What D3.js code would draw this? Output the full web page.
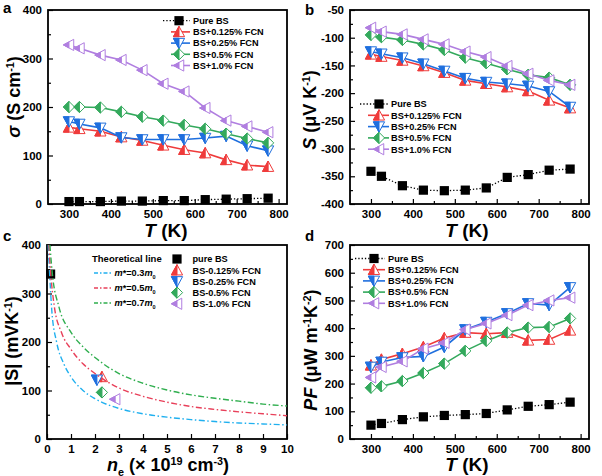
<!DOCTYPE html>
<html lang="en">
<head>
  <meta charset="UTF-8" />
  <title>BS + FCN thermoelectric</title>
  <script src="https://d3js.org/d3.v7.min.js"></script>
  <style>
    body { margin: 0; background: #fff; font-family: "Liberation Sans", Arial, sans-serif; }
    svg text { font-family: "Liberation Sans", Arial, sans-serif; font-weight: bold; }
    .tick text { font-size: 11.5px; }
  </style>
</head>
<body>
  <svg width="602" height="476"></svg>

  <script>
    // temperatures (K)
    const temps = [300, 325, 375, 425, 475, 525, 575, 625, 675, 725, 775];
    const seriesNames = ["Pure BS", "BS+0.125% FCN", "BS+0.25% FCN", "BS+0.5% FCN", "BS+1.0% FCN"];

    // panel a: electrical conductivity (S/cm)
    const sigmaPure = [5, 5, 5, 6, 6, 7, 7, 9, 10, 11, 12];
    const sigma0125 = [158, 155, 150, 138, 131, 121, 112, 105, 91, 80, 77];
    const sigma025 = [170, 165, 157, 137, 133, 133, 133, 136, 140, 120, 110];
    const sigma05 = [200, 200, 199, 190, 180, 172, 163, 155, 145, 135, 126];
    const sigma10 = [328, 321, 307, 297, 276, 248, 232, 198, 172, 160, 148];

    // panel b: Seebeck (uV/K)
    const sPure = [-341, -350, -367, -375, -376, -375, -371, -352, -347, -339, -337];
    const s0125 = [-130, -134, -141, -151, -163, -177, -183, -189, -196, -213, -227];
    const s025 = [-125, -129, -136, -147, -160, -173, -180, -183, -187, -197, -225];
    const s05 = [-95, -99, -104, -112, -122, -136, -146, -157, -167, -172, -185];
    const s10 = [-82, -89, -94, -103, -112, -125, -135, -151, -165, -177, -185];

    // panel c: |S| vs carrier concentration
    const neSamples = [0.15, 2.29, 2.08, 2.29, 2.84];
    const absSSamples = [340, 128, 122, 96, 82];
    const sampleNames = ["pure BS", "BS-0.125% FCN", "BS-0.25% FCN", "BS-0.5% FCN", "BS-1.0% FCN"];
    const neM03 = [0.05, 0.1, 0.2, 0.4, 0.7, 1, 1.5, 2, 3, 4, 5, 6, 7, 8, 9, 10];
    const sM03 = [400, 350, 265, 200, 155, 128, 100, 83, 63, 52, 45, 40, 36, 33, 31, 29];
    const neM05 = [0.08, 0.15, 0.3, 0.6, 1, 1.5, 2, 3, 4, 5, 6, 7, 8, 9, 10];
    const sM05 = [400, 345, 275, 220, 185, 155, 135, 105, 88, 76, 67, 61, 56, 52, 48];
    const neM07 = [0.12, 0.22, 0.5, 1, 1.5, 2, 3, 4, 5, 6, 7, 8, 9, 10];
    const sM07 = [400, 342, 272, 220, 190, 168, 135, 115, 101, 91, 84, 78, 72, 68];
    const massLabels = ["0.3", "0.5", "0.7"];

    // panel d: power factor (uW m-1 K-2)
    const pfPure = [50, 56, 70, 80, 85, 88, 92, 105, 118, 124, 133];
    const pf0125 = [266, 287, 308, 332, 364, 384, 380, 384, 356, 359, 392];
    const pf025 = [260, 278, 294, 298, 332, 395, 422, 453, 489, 483, 547];
    const pf05 = [185, 190, 209, 238, 272, 318, 354, 384, 402, 404, 435];
    const pf10 = [222, 260, 280, 326, 347, 395, 417, 447, 483, 500, 510];

    const colors = ["#000000", "#ef3b3b", "#1f6fde", "#33a95c", "#b07ee0"];
    const shapes = ["square", "up", "down", "diamond", "left"];
    const curveColors = ["#20b0ef", "#e8405a", "#2fae4e"];

    const svg = d3.select("svg");

    function marker(sel, type, color, r) {
      if (type === "square") {
        sel.append("rect").attr("x", -r).attr("y", -r).attr("width", 2 * r).attr("height", 2 * r)
          .attr("fill", "#000");
        return;
      }
      const full = {
        up: [[0, -r], [r, 0.85 * r], [-r, 0.85 * r]],
        down: [[0, r], [r, -0.85 * r], [-r, -0.85 * r]],
        diamond: [[0, -r], [r, 0], [0, r], [-r, 0]],
        left: [[-r, 0], [0.85 * r, -r], [0.85 * r, r]]
      };
      const half = {
        up: [[0, -r], [0, 0.85 * r], [-r, 0.85 * r]],
        down: [[0, r], [0, -0.85 * r], [-r, -0.85 * r]],
        diamond: [[0, -r], [0, r], [-r, 0]],
        left: [[-r, 0], [0, -0.53 * r], [0, 0.53 * r]]
      };
      const p = pts => "M" + pts.join("L") + "Z";
      sel.append("path").attr("d", p(full[type])).attr("fill", "#fff")
        .attr("stroke", color).attr("stroke-width", 1);
      sel.append("path").attr("d", p(half[type])).attr("fill", color)
        .attr("stroke", color).attr("stroke-width", 1).attr("stroke-linejoin", "round");
    }

    // text with italic / sup / sub parts
    function rich(sel, parts, size) {
      parts.forEach(pt => {
        const t = sel.append("tspan").text(pt.t);
        if (pt.i) t.attr("font-style", "italic");
        if (pt.sup) t.attr("font-size", size * 0.6).attr("dy", -size * 0.33);
        if (pt.sub) t.attr("font-size", size * 0.6).attr("dy", size * 0.25);
        if (pt.back) t.attr("dy", pt.back * size);
      });
    }

    function panel(o) {
      const g = svg.append("g").attr("transform", `translate(${o.x},${o.y})`);
      const x = d3.scaleLinear().domain(o.xd).range([0, o.w]);
      const y = d3.scaleLinear().domain(o.yd).range([o.h, 0]);
      const clean = a => a.select(".domain").remove();
      const fmt = d => String(d);

      g.append("g").attr("transform", `translate(0,${o.h})`)
        .call(d3.axisBottom(x).tickValues(o.xMinor).tickSize(-3).tickFormat("")).call(clean);
      g.append("g").call(d3.axisLeft(y).tickValues(o.yMinor).tickSize(-3).tickFormat("")).call(clean);
      g.append("g").attr("transform", `translate(0,${o.h})`)
        .call(d3.axisBottom(x).tickValues(o.xTicks).tickSizeInner(-5).tickSizeOuter(0).tickPadding(6).tickFormat(fmt))
        .call(clean);
      g.append("g")
        .call(d3.axisLeft(y).tickValues(o.yTicks).tickSizeInner(-5).tickSizeOuter(0).tickPadding(6).tickFormat(fmt))
        .call(clean);
      g.selectAll(".tick line").attr("stroke-width", 1.2);
      g.selectAll(".tick text").attr("fill", "#000");

      g.append("rect").attr("width", o.w).attr("height", o.h)
        .attr("fill", "none").attr("stroke", "#000").attr("stroke-width", 1.8);

      const clipId = "clip" + o.letter;
      g.append("clipPath").attr("id", clipId).append("rect").attr("width", o.w).attr("height", o.h);
      const plot = g.append("g");
      const clipped = g.append("g").attr("clip-path", `url(#${clipId})`);

      // letter
      svg.append("text").attr("x", o.x + o.letterDx).attr("y", o.letterY)
        .attr("font-size", 15).text(o.letter);

      // x title
      const xt = svg.append("text").attr("x", o.xTitle[0]).attr("y", o.xTitle[1])
        .attr("text-anchor", "middle").attr("font-size", o.xSize || 19);
      rich(xt, o.xParts, o.xSize || 19);
      // y title
      const yt = svg.append("text").attr("transform", `translate(${o.yTitle[0]},${o.yTitle[1]}) rotate(-90)`)
        .attr("text-anchor", "middle").attr("font-size", 18);
      rich(yt, o.yParts, 18);

      return { g, x, y, plot, clipped };
    }

    function drawSeries(p, xs, ys, i) {
      const line = d3.line().x((d, k) => p.x(xs[k])).y(d => p.y(d));
      p.plot.append("path").datum(ys).attr("d", line).attr("fill", "none")
        .attr("stroke", colors[i]).attr("stroke-width", i === 0 ? 1.3 : 1.6)
        .attr("stroke-dasharray", i === 0 ? "1.3,2" : null);
      ys.forEach((v, k) => {
        const m = p.plot.append("g").attr("transform", `translate(${p.x(xs[k])},${p.y(v)})`);
        marker(m, shapes[i], colors[i], i === 0 ? 4.6 : 5.6);
      });
    }

    function legend(lx1, lx2, mx, tx, y0, dy, names) {
      names.forEach((name, i) => {
        const yy = y0 + i * dy;
        svg.append("line").attr("x1", i === 0 ? lx1 - 8 : lx1).attr("x2", lx2).attr("y1", yy).attr("y2", yy)
          .attr("stroke", colors[i]).attr("stroke-width", i === 0 ? 1.3 : 1.6)
          .attr("stroke-dasharray", i === 0 ? "1.3,2" : null);
        marker(svg.append("g").attr("transform", `translate(${mx},${yy})`), shapes[i], colors[i], i === 0 ? 4.6 : 5.6);
        svg.append("text").attr("x", tx).attr("y", yy + 3.3).attr("font-size", 9.2).text(name);
      });
    }

    const tAxis = {
      xd: [250, 820], xTicks: [300, 400, 500, 600, 700, 800], xMinor: [350, 450, 550, 650, 750],
      xParts: [{ t: "T", i: true }, { t: " (K)" }]
    };

    // ---- panel a
    const pa = panel(Object.assign({}, tAxis, {
      letter: "a", x: 48, y: 10, w: 239, h: 194, letterDx: -45, letterY: 13,
      yd: [0, 400], yTicks: [0, 100, 200, 300, 400], yMinor: [50, 150, 250, 350],
      xTitle: [166, 237], yTitle: [20, 97],
      yParts: [{ t: "σ", i: true }, { t: " (S cm" }, { t: "-1", sup: true }, { t: ")", back: 0.33 }]
    }));
    [sigmaPure, sigma0125, sigma025, sigma05, sigma10].forEach((s, i) => drawSeries(pa, temps, s, i));
    legend(171, 190, 179, 193, 20.7, 11.2, seriesNames);

    // ---- panel b
    const pb = panel(Object.assign({}, tAxis, {
      letter: "b", x: 350, y: 10, w: 239, h: 194, letterDx: -45, letterY: 15,
      yd: [-400, -50], yTicks: [-400, -350, -300, -250, -200, -150, -100, -50],
      yMinor: [-375, -325, -275, -225, -175, -125, -75],
      xTitle: [467, 237], yTitle: [316, 110],
      yParts: [{ t: "S", i: true }, { t: " (μV K" }, { t: "-1", sup: true }, { t: ")", back: 0.33 }]
    }));
    [sPure, s0125, s025, s05, s10].forEach((s, i) => drawSeries(pb, temps, s, i));
    legend(368, 389, 379, 391, 104, 11.3, seriesNames);

    // ---- panel c
    const pc = panel({
      letter: "c", x: 47, y: 245, w: 240, h: 194, letterDx: -44, letterY: 241,
      xd: [0, 10], xTicks: d3.range(0, 11), xMinor: [],
      yd: [0, 400], yTicks: [0, 100, 200, 300, 400], yMinor: [50, 150, 250, 350],
      xTitle: [168, 471], yTitle: [18, 341], xSize: 18,
      xParts: [{ t: "n", i: true }, { t: "e", sub: true }, { t: " (× 10", back: -0.25 }, { t: "19", sup: true },
        { t: " cm", back: 0.33 }, { t: "-3", sup: true }, { t: ")", back: 0.33 }],
      yParts: [{ t: "|S| (mVK" }, { t: "-1", sup: true }, { t: ")", back: 0.33 }]
    });
    [[neM03, sM03], [neM05, sM05], [neM07, sM07]].forEach(([xs, ys], i) => {
      pc.clipped.append("path").datum(ys)
        .attr("d", d3.line().curve(d3.curveMonotoneX).x((d, k) => pc.x(xs[k])).y(d => pc.y(d)))
        .attr("fill", "none").attr("stroke", curveColors[i]).attr("stroke-width", 1.4)
        .attr("stroke-dasharray", "6,2.5,1.5,2.5");
    });
    neSamples.forEach((n, i) => {
      const m = pc.plot.append("g").attr("transform", `translate(${pc.x(n)},${pc.y(absSSamples[i])})`);
      marker(m, shapes[i], colors[i], i === 0 ? 4.6 : 5.6);
    });
    svg.append("text").attr("x", 92).attr("y", 261.5).attr("font-size", 9.5).text("Theoretical line");
    massLabels.forEach((ml, i) => {
      const yy = 273 + i * 15;
      svg.append("line").attr("x1", 94).attr("x2", 112).attr("y1", yy).attr("y2", yy)
        .attr("stroke", curveColors[i]).attr("stroke-width", 1.4).attr("stroke-dasharray", "4,2,1.5,2");
      const t = svg.append("text").attr("x", 114.5).attr("y", yy + 3.3).attr("font-size", 9.2);
      rich(t, [{ t: "m", i: true }, { t: "*=" + ml }, { t: "m", i: true }, { t: "0", sub: true }], 9.2);
    });
    sampleNames.forEach((name, i) => {
      const yy = 259 + i * 11.2;
      marker(svg.append("g").attr("transform", `translate(177,${yy})`), shapes[i], colors[i], i === 0 ? 4.6 : 5.6);
      svg.append("text").attr("x", 192.5).attr("y", yy + 3.3).attr("font-size", 9.2).text(name);
    });

    // ---- panel d
    const pd = panel(Object.assign({}, tAxis, {
      letter: "d", x: 350, y: 245, w: 239, h: 194, letterDx: -45, letterY: 241,
      yd: [0, 700], yTicks: d3.range(0, 701, 100), yMinor: d3.range(50, 700, 100),
      xTitle: [467, 471], yTitle: [317, 350],
      yParts: [{ t: "PF", i: true }, { t: " (μW m" }, { t: "-1", sup: true }, { t: "K", back: 0.33 },
        { t: "-2", sup: true }, { t: ")", back: 0.33 }]
    }));
    [pfPure, pf0125, pf025, pf05, pf10].forEach((s, i) => drawSeries(pd, temps, s, i));
    legend(363, 385, 374, 388, 258.5, 11.2, seriesNames);
  </script>
</body>
</html>
